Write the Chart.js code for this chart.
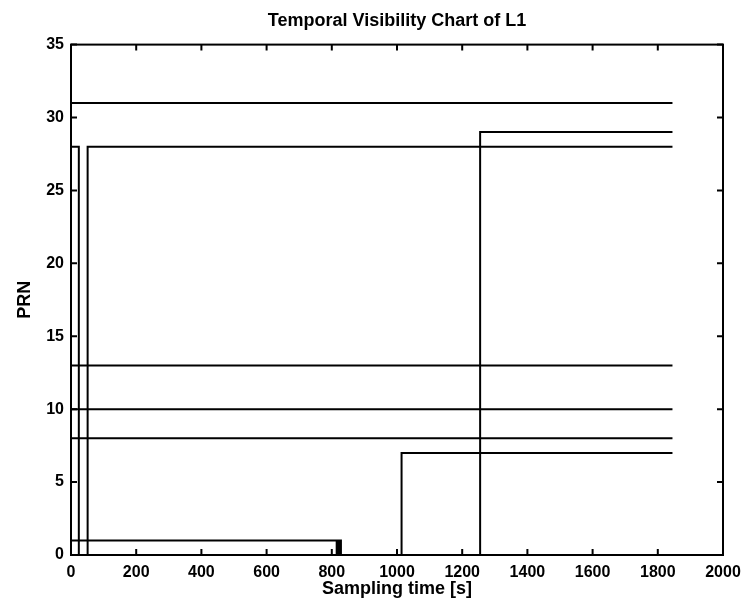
<!DOCTYPE html>
<html>
<head>
<meta charset="utf-8">
<title>Temporal Visibility Chart of L1</title>
<script src="https://cdn.jsdelivr.net/npm/chart.js@4.4.1/dist/chart.umd.min.js"></script>
<style>
html,body{margin:0;padding:0;background:#fff}
#wrap{width:747px;height:613px;position:relative}
</style>
</head>
<body>
<div id="wrap"><canvas id="visChart"></canvas></div>
<script>

// axis ticks
const xTicks=[0,200,400,600,800,1000,1200,1400,1600,1800,2000]
const yTicks=[0,5,10,15,20,25,30,35]

// PRN tracks: time [s] / PRN (0 = not visible)
const prn31T=[0,0,1845]
const prn31V=[0,31,31]

const prn29T=[1255,1255,1845]
const prn29V=[0,29,29]

const prn28T=[0,0,24,24,51,51,1845]
const prn28V=[0,28,28,0,0,28,28]

const prn13T=[0,0,1845]
const prn13V=[0,13,13]

const prn10T=[0,0,1845]
const prn10V=[0,10,10]

const prn8T=[0,0,1845]
const prn8V=[0,8,8]

const prn7T=[1014,1014,1845]
const prn7V=[0,7,7]

const prn1T=[0,0,815,815,818,818,821,821,824,824,828,828]
const prn1V=[0,1,1,0,0,1,1,0,0,1,1,0]

const tracks=[
[prn31T,prn31V],
[prn29T,prn29V],
[prn28T,prn28V],
[prn13T,prn13V],
[prn10T,prn10V],
[prn8T,prn8V],
[prn7T,prn7V],
[prn1T,prn1V]
]

const fontFam="'Liberation Sans', Arial, sans-serif"

function toPoints(t,v){
return t.map((x,i)=>({x:x,y:v[i]}))
}

// matlab style box + inward ticks
const boxPlugin={
id:"boxPlugin",
afterDatasetsDraw(c){
let ctx=c.ctx
let a=c.chartArea
let xs=c.scales.x
let ys=c.scales.y
ctx.save()
ctx.strokeStyle="#000"
ctx.lineWidth=2
ctx.strokeRect(a.left,a.top,a.right-a.left,a.bottom-a.top)
ctx.beginPath()
xTicks.forEach(v=>{
let px=xs.getPixelForValue(v)
ctx.moveTo(px,a.bottom);ctx.lineTo(px,a.bottom-6)
ctx.moveTo(px,a.top);ctx.lineTo(px,a.top+6)
})
yTicks.forEach(v=>{
let py=ys.getPixelForValue(v)
ctx.moveTo(a.left,py);ctx.lineTo(a.left+6,py)
ctx.moveTo(a.right,py);ctx.lineTo(a.right-6,py)
})
ctx.stroke()
ctx.restore()
}
}

new Chart(document.getElementById("visChart"),{
type:"scatter",
data:{
datasets:tracks.map(tr=>({
data:toPoints(tr[0],tr[1]),
showLine:true,
borderColor:"#000",
borderWidth:2,
pointRadius:0,
tension:0,
fill:false
}))
},
options:{
responsive:true,
maintainAspectRatio:false,
animation:false,
layout:{padding:{top:0,right:24,bottom:0,left:0}},
plugins:{
legend:{display:false},
tooltip:{enabled:false},
title:{
display:true,
fullSize:false,
text:"Temporal Visibility Chart of L1",
color:"#000",
font:{family:fontFam,size:18,weight:"bold"},
padding:{top:10,bottom:13}
}
},
scales:{
x:{
type:"linear",
min:0,max:2000,
afterFit(s){s.height=58;s.paddingRight=0;s.paddingLeft=0},
afterBuildTicks(s){s.ticks=xTicks.map(v=>({value:v}))},
grid:{display:true,drawOnChartArea:false,drawTicks:false},
border:{display:false},
ticks:{color:"#000",padding:8,font:{family:fontFam,size:16,weight:"bold"},
callback:v=>String(v)},
title:{display:true,text:"Sampling time [s]",color:"#000",
font:{family:fontFam,size:18,weight:"bold"},padding:{top:0,bottom:13}}
},
y:{
type:"linear",
min:0,max:35,
afterFit(s){s.width=71;s.paddingTop=0;s.paddingBottom=0},
afterBuildTicks(s){s.ticks=yTicks.map(v=>({value:v}))},
grid:{display:true,drawOnChartArea:false,drawTicks:false},
border:{display:false},
ticks:{color:"#000",padding:7,font:{family:fontFam,size:16,weight:"bold"},
callback:v=>String(v)},
title:{display:true,text:"PRN",color:"#000",
font:{family:fontFam,size:18,weight:"bold"},padding:{top:14,bottom:0}}
}
}
},
plugins:[boxPlugin]
})

</script>
</body>
</html>
